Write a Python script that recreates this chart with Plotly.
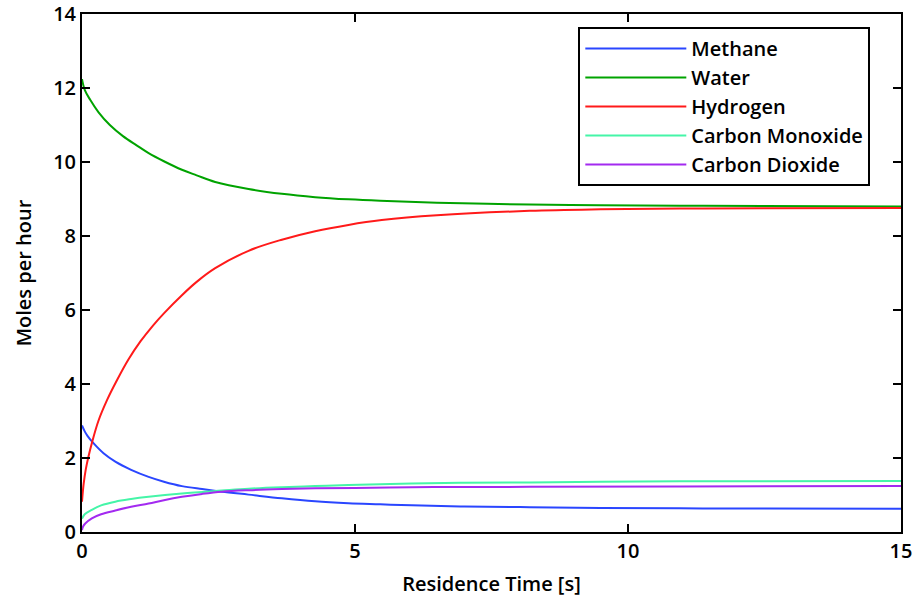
import plotly.graph_objects as go

# Residence time samples [s] and read-off values (moles per hour)
t_methane = [0, 0.05, 0.1, 0.21, 0.4, 0.61, 0.9, 1.22, 1.5, 1.83, 2.2, 2.56, 3.05, 3.66, 4.27, 4.88, 5.46, 6.04, 7.0, 8.2, 9.5, 10.95, 12.5, 15]
methane = [2.88, 2.72, 2.6, 2.4, 2.12, 1.9, 1.68, 1.49, 1.36, 1.24, 1.16, 1.09, 1.01, 0.91, 0.83, 0.78, 0.75, 0.72, 0.69, 0.67, 0.65, 0.64, 0.635, 0.63]

t_water = [0, 0.05, 0.15, 0.3, 0.51, 0.75, 1.0, 1.22, 1.5, 1.83, 2.1, 2.44, 3.05, 3.66, 4.27, 4.88, 5.46, 6.5, 8.2, 9.5, 10.95, 12.5, 15]
water = [12.24, 11.95, 11.68, 11.35, 11.0, 10.7, 10.45, 10.24, 10.02, 9.79, 9.64, 9.46, 9.27, 9.14, 9.05, 8.99, 8.95, 8.9, 8.85, 8.83, 8.82, 8.81, 8.8]

t_hydrogen = [0, 0.03, 0.07, 0.12, 0.18, 0.3, 0.46, 0.64, 0.85, 1.07, 1.3, 1.5, 1.83, 2.1, 2.44, 3.05, 3.66, 4.27, 4.88, 5.49, 6.5, 8.2, 9.5, 10.95, 12.5, 15]
hydrogen = [0.82, 1.3, 1.7, 2.05, 2.4, 3.0, 3.57, 4.1, 4.66, 5.15, 5.58, 5.91, 6.4, 6.76, 7.13, 7.6, 7.9, 8.13, 8.3, 8.43, 8.56, 8.68, 8.72, 8.74, 8.75, 8.76]

t_co = [0, 0.05, 0.18, 0.35, 0.61, 0.9, 1.22, 1.83, 2.56, 3.05, 3.66, 4.27, 4.88, 5.46, 6.04, 7.0, 8.2, 9.5, 10.95, 12.5, 15]
co = [0.36, 0.48, 0.6, 0.72, 0.82, 0.89, 0.95, 1.04, 1.12, 1.17, 1.21, 1.24, 1.27, 1.29, 1.31, 1.33, 1.34, 1.36, 1.37, 1.37, 1.38]

t_co2 = [0, 0.02, 0.06, 0.18, 0.35, 0.61, 0.9, 1.22, 1.5, 1.83, 2.2, 2.56, 3.05, 3.66, 4.27, 5.0, 6.04, 7.0, 8.2, 10.95, 15]
co2 = [0.05, 0.15, 0.23, 0.37, 0.48, 0.58, 0.68, 0.77, 0.86, 0.95, 1.03, 1.09, 1.13, 1.16, 1.18, 1.19, 1.21, 1.215, 1.22, 1.23, 1.24]

x_ticks = [0, 5, 10, 15]
y_ticks = [0, 2, 4, 6, 8, 10, 12, 14]

series = [
    ("Methane", t_methane, methane, "#2a46ff"),
    ("Water", t_water, water, "#00a300"),
    ("Hydrogen", t_hydrogen, hydrogen, "#ff1a1a"),
    ("Carbon Monoxide", t_co, co, "#45f5a8"),
    ("Carbon Dioxide", t_co2, co2, "#a32af0"),
]

FONT = "Open Sans"

fig = go.Figure()
for name, xs, ys, col in series:
    fig.add_trace(go.Scatter(
        x=xs, y=ys, mode="lines", name=name, legendgroup=name,
        line=dict(color=col, width=2, shape="spline", smoothing=1.0),
    ))

axis_common = dict(
    showline=True, linecolor="black", linewidth=2, mirror="ticks",
    ticks="inside", ticklen=8, tickwidth=1.5, tickcolor="black",
    showgrid=False, zeroline=False, automargin=False,
    ticklabeloverflow="allow",
    tickfont=dict(family=FONT, size=20, color="black", weight=600),
)

fig.update_layout(
    width=915, height=598,
    margin=dict(l=82, r=14, t=14, b=66),
    paper_bgcolor="white", plot_bgcolor="white",
    xaxis=dict(range=[0, 15], tickvals=x_ticks, ticktext=[str(v) for v in x_ticks],
               title=dict(text="Residence Time [s]", standoff=14,
                          font=dict(family=FONT, size=20, color="black", weight=600)),
               **axis_common),
    yaxis=dict(range=[0, 14], tickvals=y_ticks, ticktext=[str(v) for v in y_ticks],
               title=dict(text="Moles per hour", standoff=16,
                          font=dict(family=FONT, size=20, color="black", weight=600)),
               **axis_common),
    legend=dict(
        x=0.606, y=0.975, xanchor="left", yanchor="top",
        bgcolor="white", bordercolor="black", borderwidth=2,
        font=dict(family=FONT, size=20, color="black", weight=600),
        tracegroupgap=0, itemwidth=101,
    ),
    showlegend=True,
)

# remove the browser's default body margin so the figure fills the window
fig.write_html(
    "out.html",
    config={"displayModeBar": False},
    post_script="document.body.style.margin='0';document.body.style.overflow='hidden';",
)
